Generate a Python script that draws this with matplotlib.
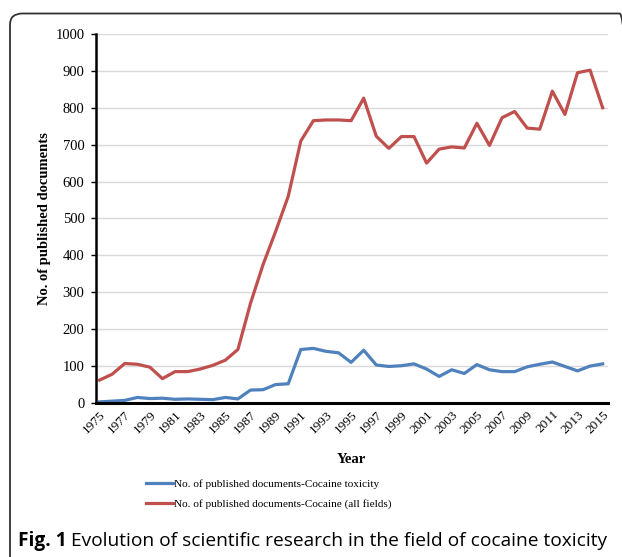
# coding=utf-8
"""Cocaine toxicity publications per year"""

import matplotlib.pyplot as plt
from matplotlib.patches import FancyBboxPatch

years = list(range(1975, 2016))

toxicity = [3, 5, 7, 15, 12, 13, 10, 11, 10, 9,
            15, 11, 35, 36, 50, 52, 145, 148, 140, 136,
            110, 143, 103, 99, 101, 106, 92, 72, 90, 80,
            104, 90, 85, 85, 98, 105, 111, 99, 87, 100,
            106]

all_fields = [62, 78, 107, 105, 97, 66, 85, 85, 92, 102,
              116, 145, 270, 375, 465, 560, 710, 765, 767, 767,
              765, 826, 723, 690, 722, 722, 650, 688, 694, 691,
              758, 698, 773, 790, 745, 742, 845, 782, 895, 902,
              800]

y_ticks = list(range(0, 1001, 100))
x_ticks = list(range(1975, 2016, 2))

serif = ['Liberation Serif', 'DejaVu Serif']

fig = plt.figure(figsize=(6.22, 5.57), dpi=100)
ax = fig.add_axes([0.154, 0.2765, 0.823, 0.6625])

ax.plot(years, toxicity, color='#4F81BD', linewidth=2.3,
        label='No. of published documents-Cocaine toxicity')
ax.plot(years, all_fields, color='#C0504D', linewidth=2.3,
        label='No. of published documents-Cocaine (all fields)')

ax.set_ylim(0, 1000)
ax.set_xlim(1974.7, 2015.4)
ax.set_yticks(y_ticks)
ax.set_xticks(x_ticks)
ax.set_yticklabels([str(v) for v in y_ticks], family=serif, fontsize=10.5)
ax.set_xticklabels([str(v) for v in x_ticks], family=serif, fontsize=9.6,
                   rotation=45, ha='right', va='top', rotation_mode='anchor')
ax.tick_params(axis='x', length=0, pad=4)
ax.tick_params(axis='y', length=3.6, width=1, direction='out', pad=4.5)

ax.grid(axis='y', color='#D9D9D9', linewidth=1)
ax.set_axisbelow(True)
for side in ['top', 'right']:
    ax.spines[side].set_visible(False)
ax.spines['left'].set_linewidth(1.8)
ax.spines['bottom'].set_linewidth(2.2)

ax.set_xlabel('Year', family=serif, fontsize=10.5, fontweight='bold', labelpad=12)
ax.set_ylabel('No. of published documents', family=serif, fontsize=10.5,
              fontweight='bold', labelpad=3.5)

fig.legend(loc='center', bbox_to_anchor=(0.432, 0.113), frameon=False,
           prop={'family': serif, 'size': 8.1}, handlelength=2.4,
           handletextpad=0.05, labelspacing=0.95)

# rounded frame around the figure panel
frame = FancyBboxPatch((10 / 622, -0.05), 1.0, 1 - 13.5 / 557 + 0.05,
                       boxstyle='round,pad=0,rounding_size=0.02',
                       transform=fig.transFigure, fill=False,
                       edgecolor='#333333', linewidth=1.3, clip_on=False)
fig.patches.append(frame)

# caption: bold "Fig. 1" followed by normal text
cap_y = 1 - 541 / 557
t1 = fig.text(18 / 622, cap_y, 'Fig. 1', family='Open Sans', fontsize=13.75,
              fontweight='bold', va='center', ha='left')
fig.canvas.draw()
bb = t1.get_window_extent()
fig.text(bb.x1 / fig.bbox.width + 0.007, cap_y,
         'Evolution of scientific research in the field of cocaine toxicity',
         family='Open Sans', fontsize=13.75, va='center', ha='left')

fig.savefig('out.png', dpi=100)
